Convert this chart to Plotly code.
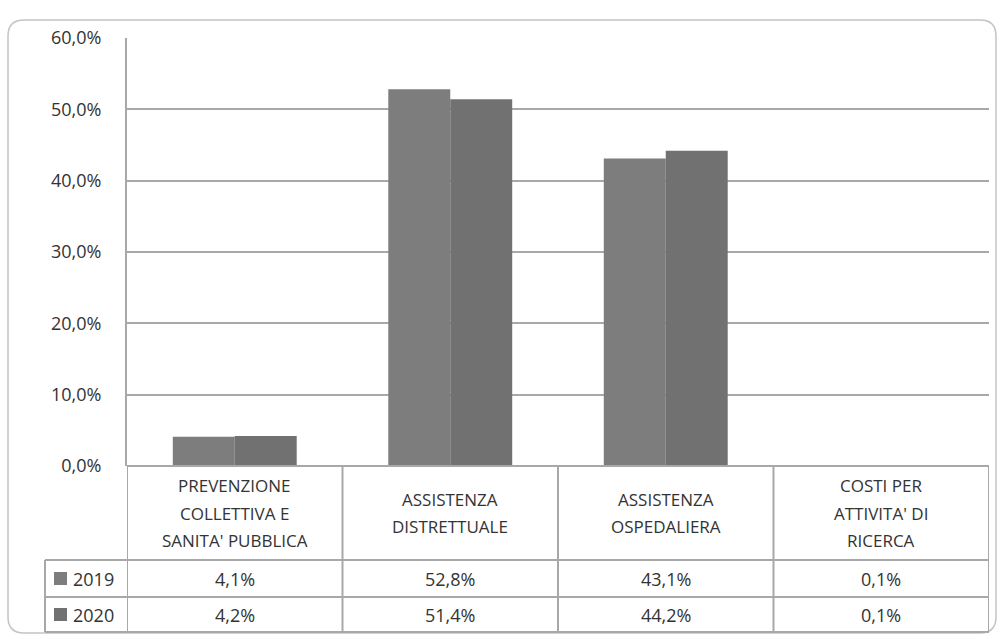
import plotly.graph_objects as go

categories = [
    "PREVENZIONE<br>COLLETTIVA E<br>SANITA' PUBBLICA",
    "ASSISTENZA<br>DISTRETTUALE",
    "ASSISTENZA<br>OSPEDALIERA",
    "COSTI PER<br>ATTIVITA' DI<br>RICERCA",
]
years = ["2019", "2020"]
values_2019 = [4.1, 52.8, 43.1, 0.1]
values_2020 = [4.2, 51.4, 44.2, 0.1]
colors = ["#7d7d7d", "#717171"]
y_ticks = [0, 10, 20, 30, 40, 50, 60]

W, H = 1004, 639
L, R, T, B = 127, 989, 38, 466  # plot area in pixels

def px(x):
    return (x - L) / (R - L)

def py(y):
    return (B - y) / (B - T)

def pct(v):
    return f"{v:.1f}%".replace(".", ",")

FONT = "'Open Sans', Lato, sans-serif"
TXT = "#333333"
LINE = "#a8a8a8"

xs = list(range(len(categories)))
fig = go.Figure()
for yr, vals, col in zip(years, [values_2019, values_2020], colors):
    fig.add_trace(go.Bar(x=xs, y=vals, name=yr, marker=dict(color=col, line=dict(width=0)),
                         showlegend=False, hoverinfo="skip"))

shapes = []
annotations = []

# outer rounded frame
x0, y0, x1, y1 = px(8), py(20), px(996), py(633)
rx = 16 / (R - L)
ry = 16 / (B - T)
shapes.append(dict(
    type="path", xref="paper", yref="paper",
    path=(f"M {x0+rx},{y0} L {x1-rx},{y0} Q {x1},{y0} {x1},{y0-ry} "
          f"L {x1},{y1+ry} Q {x1},{y1} {x1-rx},{y1} L {x0+rx},{y1} "
          f"Q {x0},{y1} {x0},{y1+ry} L {x0},{y0-ry} Q {x0},{y0} {x0+rx},{y0} Z"),
    line=dict(color="#c4c4c4", width=1.5), layer="below"))

# table geometry (rows in pixel space)
row_header_bottom = 560
row1_bottom = 597
row2_bottom = 632
key_left = 45
n = len(categories)
edges = [i - 0.5 for i in range(n + 1)]

for yy, xl in [(B, None), (row_header_bottom, key_left), (row1_bottom, key_left), (row2_bottom, key_left)]:
    shapes.append(dict(type="line", xref="paper", yref="paper",
                       x0=px(xl) if xl is not None else 0, x1=1, y0=py(yy), y1=py(yy),
                       line=dict(color=LINE, width=2)))
for e in edges:
    shapes.append(dict(type="line", xref="x", yref="paper", x0=e, x1=e,
                       y0=py(B), y1=py(row2_bottom), line=dict(color=LINE, width=2)))
shapes.append(dict(type="line", xref="paper", yref="paper", x0=px(key_left), x1=px(key_left),
                   y0=py(row_header_bottom), y1=py(row2_bottom), line=dict(color=LINE, width=2)))

# header labels, one annotation per line for Excel-like line pitch
pitch = 27.5
mid = (B + row_header_bottom) / 2
for i, c in enumerate(categories):
    lines = c.split("<br>")
    k = len(lines)
    for j, ln in enumerate(lines):
        yc = mid + (j - (k - 1) / 2) * pitch
        annotations.append(dict(x=i, xref="x", y=py(yc), yref="paper", yanchor="middle",
                                xanchor="center", text=ln, showarrow=False,
                                font=dict(family=FONT, size=17, color=TXT)))

# data rows
row_bounds = [(row_header_bottom, row1_bottom), (row1_bottom, row2_bottom)]
for (ya, yb), yr, vals, col in zip(row_bounds, years, [values_2019, values_2020], colors):
    yc = (ya + yb) / 2
    for i, v in enumerate(vals):
        annotations.append(dict(x=i, xref="x", y=py(yc), yref="paper", yanchor="middle",
                                xanchor="center", text=pct(v), showarrow=False,
                                font=dict(family=FONT, size=18, color=TXT)))
    shapes.append(dict(type="rect", xref="paper", yref="paper",
                       x0=px(54), x1=px(67), y0=py(yc + 6.5), y1=py(yc - 6.5),
                       fillcolor=col, line=dict(width=0)))
    annotations.append(dict(x=px(71), xref="paper", y=py(yc), yref="paper",
                            xanchor="left", yanchor="middle",
                            text=yr, showarrow=False,
                            font=dict(family=FONT, size=18, color=TXT)))

fig.update_layout(
    width=W, height=H,
    margin=dict(l=L, r=W - R, t=T, b=H - B, pad=0),
    paper_bgcolor="white", plot_bgcolor="white",
    barmode="group", bargap=0.425, bargroupgap=0,
    shapes=shapes, annotations=annotations,
    xaxis=dict(range=[-0.5, n - 0.5], showticklabels=False, showgrid=False,
               zeroline=False, showline=False, ticks="", fixedrange=True),
    yaxis=dict(range=[0, 60], tickmode="array", tickvals=y_ticks,
               ticktext=[pct(t) for t in y_ticks],
               showgrid=True, gridcolor=LINE, gridwidth=2, zeroline=False,
               showline=True, linecolor=LINE, linewidth=2, ticks="",
               ticklabelstandoff=20,
               tickfont=dict(family=FONT, size=18, color=TXT), fixedrange=True),
)

fig.write_html("out.html", config={"displayModeBar": False},
               post_script="document.body.style.margin='0';")
